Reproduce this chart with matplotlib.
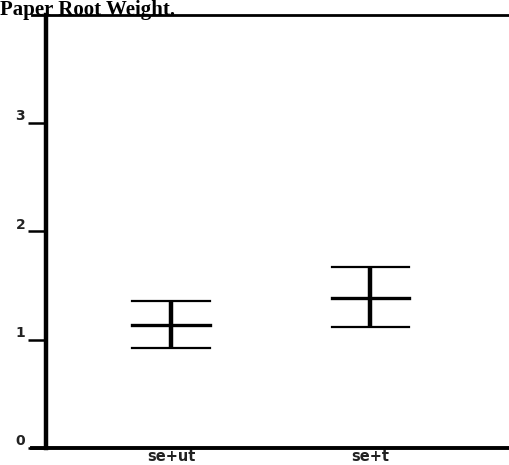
import matplotlib.pyplot as plt
from matplotlib.lines import Line2D

groups = ['se+ut', 'se+t']
means = [1.14, 1.39]
upper = [1.36, 1.67]
lower = [0.92, 1.12]
yticks = [0, 1, 2, 3]

fig = plt.figure(figsize=(5.1, 4.65), dpi=100)
ax = fig.add_axes([46 / 510, 17 / 465, 1 - 46 / 510, 433 / 465])

x = list(range(1, len(groups) + 1))
half = 0.195
for xi, m, lo, hi in zip(x, means, lower, upper):
    ax.plot([xi, xi], [lo, hi], color='black', lw=3.2, solid_capstyle='butt')
    ax.plot([xi - half, xi + half], [hi, hi], color='black', lw=1.6)
    ax.plot([xi - half, xi + half], [lo, lo], color='black', lw=1.6)
    ax.plot([xi - half, xi + half], [m, m], color='black', lw=2.4)

ax.set_xlim(0.372, 2.70)
ax.set_ylim(0, 4.0)

ax.spines['right'].set_visible(False)
ax.spines['left'].set_linewidth(3.2)
ax.spines['bottom'].set_linewidth(2.8)
ax.spines['top'].set_linewidth(2.0)

# top and bottom lines reach a bit left of the y axis
for yy, lw in [(1, 2.0), (0, 2.8)]:
    ax.add_line(Line2D([-0.03, 0], [yy, yy], transform=ax.transAxes,
                       color='black', lw=lw, clip_on=False))

ax.set_yticks(yticks)
ax.set_yticklabels([str(t) for t in yticks], fontsize=10, fontweight='bold',
                   color='#222222', family='DejaVu Sans')
ax.tick_params(axis='y', direction='out', length=13, width=1.8, pad=2)
for lab in ax.get_yticklabels():
    lab.set_va('bottom')

ax.set_xticks(x)
ax.set_xticklabels(groups, fontsize=10.5, fontweight='bold',
                   color='#222222', family='DejaVu Sans')
ax.tick_params(axis='x', length=0, pad=0.5)

fig.text(0.0, 1.0, 'Paper Root Weight.', family='Liberation Serif',
         fontweight='bold', fontsize=15, va='top', ha='left')

fig.savefig('out.png', dpi=100)
